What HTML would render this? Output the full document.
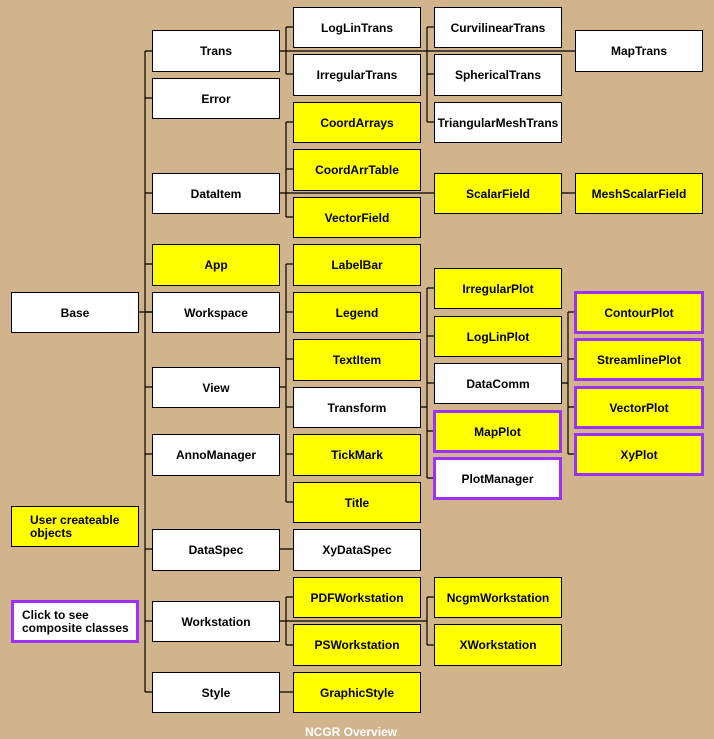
<!DOCTYPE html>
<html><head><meta charset="utf-8"><style>
body{margin:0;width:714px;height:729px;background:#d2b48c;position:relative;overflow:hidden;font-family:"Liberation Sans",sans-serif;}
.b{position:absolute;box-sizing:border-box;border:1px solid #000;background:#fff;display:flex;align-items:center;justify-content:center;font-size:12px;font-weight:bold;color:#000;width:128px;}
.y{background:#ff0;}
.p{border:3px solid #9b30ff;}
svg{position:absolute;left:0;top:0;}
.l{justify-content:flex-start;padding-left:18px;line-height:13px;}
</style></head><body>
<svg width="714" height="729" stroke="#000" stroke-width="1.2" fill="none">
<path d="M145 51V692M138 312H152"/>
<path d="M145 51H152M145 98H152M145 193H152M145 264H152M145 312H152M145 387H152M145 454H152M145 549H152M145 621H152M145 692H152"/>
<path d="M279 51H575M286 27V74M286 27H293M286 74H293"/>
<path d="M427 27V122M427 27H434M427 74H434M427 122H434"/>
<path d="M279 193H434M286 122V217M286 122H293M286 169H293M286 217H293M561 193H575"/>
<path d="M279 387H286M286 264V502M286 264H293M286 312H293M286 359H293M286 407H293M286 454H293M286 502H293"/>
<path d="M420 407H427M427 288V478M427 288H434M427 336H434M427 383H434M427 431H434M427 478H434"/>
<path d="M561 383H568M568 312V454M568 312H575M568 359H575M568 407H575M568 454H575"/>
<path d="M279 549H293M279 692H293"/>
<path d="M279 621H427M286 597V645M286 597H293M286 645H293M427 597V645M427 597H434M427 645H434"/>
</svg>
<div class="b" style="left:11px;top:292px;height:41px">Base</div>
<div class="b y l" style="left:11px;top:506px;height:41px">User createable<br>objects</div>
<div class="b p l" style="left:11px;top:600px;height:43px;padding-left:8px">Click to see<br>composite classes</div>

<div class="b" style="left:152px;top:30px;height:42px">Trans</div>
<div class="b" style="left:152px;top:78px;height:41px">Error</div>
<div class="b" style="left:152px;top:173px;height:41px">DataItem</div>
<div class="b y" style="left:152px;top:244px;height:42px">App</div>
<div class="b" style="left:152px;top:292px;height:41px">Workspace</div>
<div class="b" style="left:152px;top:367px;height:41px">View</div>
<div class="b" style="left:152px;top:434px;height:42px">AnnoManager</div>
<div class="b" style="left:152px;top:529px;height:42px">DataSpec</div>
<div class="b" style="left:152px;top:601px;height:41px">Workstation</div>
<div class="b" style="left:152px;top:672px;height:41px">Style</div>

<div class="b" style="left:293px;top:7px;height:41px">LogLinTrans</div>
<div class="b" style="left:293px;top:54px;height:42px">IrregularTrans</div>
<div class="b y" style="left:293px;top:102px;height:41px">CoordArrays</div>
<div class="b y" style="left:293px;top:149px;height:42px">CoordArrTable</div>
<div class="b y" style="left:293px;top:197px;height:41px">VectorField</div>
<div class="b y" style="left:293px;top:244px;height:42px">LabelBar</div>
<div class="b y" style="left:293px;top:292px;height:41px">Legend</div>
<div class="b y" style="left:293px;top:339px;height:42px">TextItem</div>
<div class="b" style="left:293px;top:387px;height:41px">Transform</div>
<div class="b y" style="left:293px;top:434px;height:42px">TickMark</div>
<div class="b y" style="left:293px;top:482px;height:41px">Title</div>
<div class="b" style="left:293px;top:529px;height:42px">XyDataSpec</div>
<div class="b y" style="left:293px;top:577px;height:41px">PDFWorkstation</div>
<div class="b y" style="left:293px;top:624px;height:42px">PSWorkstation</div>
<div class="b y" style="left:293px;top:672px;height:41px">GraphicStyle</div>

<div class="b" style="left:434px;top:7px;height:41px">CurvilinearTrans</div>
<div class="b" style="left:434px;top:54px;height:42px">SphericalTrans</div>
<div class="b" style="left:434px;top:102px;height:41px">TriangularMeshTrans</div>
<div class="b y" style="left:434px;top:173px;height:41px">ScalarField</div>
<div class="b y" style="left:434px;top:268px;height:41px">IrregularPlot</div>
<div class="b y" style="left:434px;top:316px;height:41px">LogLinPlot</div>
<div class="b" style="left:434px;top:363px;height:41px">DataComm</div>
<div class="b y p" style="left:433px;top:410px;height:43px;width:129px">MapPlot</div>
<div class="b p" style="left:433px;top:457px;height:43px;width:129px">PlotManager</div>
<div class="b y" style="left:434px;top:577px;height:41px">NcgmWorkstation</div>
<div class="b y" style="left:434px;top:624px;height:42px">XWorkstation</div>

<div class="b" style="left:575px;top:30px;height:42px">MapTrans</div>
<div class="b y" style="left:575px;top:173px;height:41px">MeshScalarField</div>
<div class="b y p" style="left:574px;top:291px;height:43px;width:130px">ContourPlot</div>
<div class="b y p" style="left:574px;top:338px;height:43px;width:130px">StreamlinePlot</div>
<div class="b y p" style="left:574px;top:386px;height:43px;width:130px">VectorPlot</div>
<div class="b y p" style="left:574px;top:433px;height:43px;width:130px">XyPlot</div>

<div style="position:absolute;left:305px;top:725px;color:#fff;font-size:12px;font-weight:bold;">NCGR Overview</div>
</body></html>
